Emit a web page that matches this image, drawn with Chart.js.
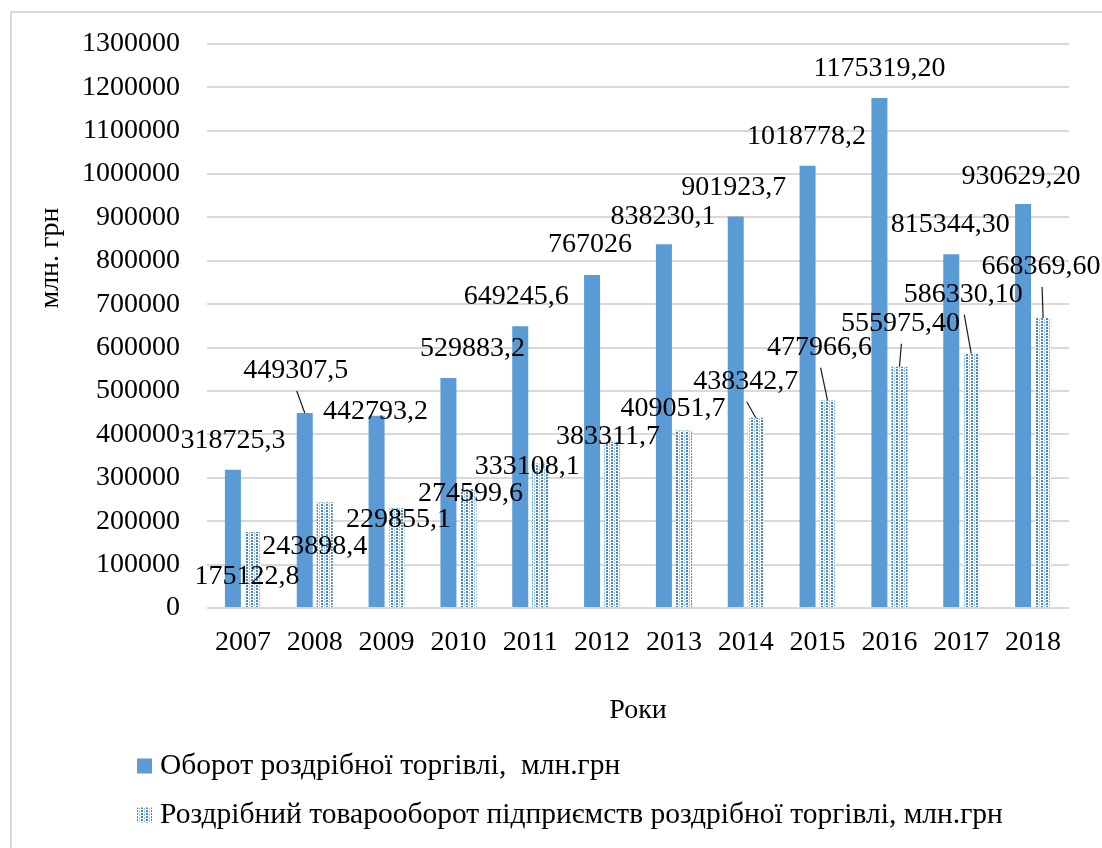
<!DOCTYPE html>
<html>
<head>
<meta charset="utf-8">
<script src="https://cdn.jsdelivr.net/npm/chart.js@4.4.1/dist/chart.umd.min.js"></script>
<style>
html,body{margin:0;padding:0;background:#fff;overflow:hidden;}
canvas{display:block;}
</style>
</head>
<body>
<canvas id="c" width="1102" height="848"></canvas>
<script>
// ---------- data ----------
const years = ['2007','2008','2009','2010','2011','2012','2013','2014','2015','2016','2017','2018'];
const retailTurnover = [318725.3, 449307.5, 442793.2, 529883.2, 649245.6, 767026, 838230.1, 901923.7, 1018778.2, 1175319.2, 815344.3, 930629.2];
const enterpriseTurnover = [175122.8, 243898.4, 229855.1, 274599.6, 333108.1, 383311.7, 409051.7, 438342.7, 477966.6, 555975.4, 586330.1, 668369.6];
const retailDecimals = [1,1,1,1,1,0,1,1,1,2,2,2];
const enterpriseDecimals = [1,1,1,1,1,1,1,1,1,2,2,2];
const yMin = 0;
const yMax = 1300000;
const yStep = 100000;
const seriesNames = ['Оборот роздрібної торгівлі,  млн.грн', 'Роздрібний товарооборот підприємств роздрібної торгівлі, млн.грн'];
const xTitle = 'Роки';
const yTitle = 'млн. грн';

// ---------- label placement (offset of label centre from bar top, px) ----------
const labelOffsets = [
  [[0,-29],[-9,-42],[-1,-4],[24,-29],[-4,-30],[-2,-30],[-1,-28],[-2,-29],[-1,-29],[0,-29],[-1,-29],[-2,-27]],
  [[-6,45],[-10,44],[2,11],[2,5],[-13,3],[-4,-5],[-11,-22],[-10,-36],[-8,-53],[1,-43],[-8,-59],[-2,-51]]
];
const leaderLines = [[1],[7,8,9,10,11]];

const FONT = '"Liberation Serif", "Times New Roman", serif';
Chart.defaults.font.family = FONT;
Chart.defaults.color = '#000';

const canvas = document.getElementById('c');
const ctx = canvas.getContext('2d');

function makePattern() {
  const t = document.createElement('canvas');
  t.width = 5; t.height = 3;
  const g = t.getContext('2d');
  g.fillStyle = '#ffffff'; g.fillRect(0,0,5,3);
  g.fillStyle = '#3f86d4'; g.fillRect(1,0,2,2);
  g.fillStyle = '#8dbcee'; g.fillRect(4,1,1,2);
  return ctx.createPattern(t, 'repeat');
}
const dotPattern = makePattern();
const blue = '#5b9bd5';

function fmt(v, d) {
  return v.toFixed(d).replace('.', ',');
}

const frame = {
  id: 'frame',
  beforeDraw(chart) {
    const c = chart.ctx;
    c.save();
    c.fillStyle = '#fff';
    c.fillRect(0,0,chart.width,chart.height);
    c.strokeStyle = '#d9d9d9';
    c.lineWidth = 2;
    c.strokeRect(11, 12, 3000, 3000);
    c.restore();
  }
};

const dataLabels = {
  id: 'dataLabels',
  afterDatasetsDraw(chart) {
    const c = chart.ctx;
    const decs = [retailDecimals, enterpriseDecimals];
    c.save();
    c.font = '28px ' + FONT;
    c.fillStyle = '#000';
    c.textAlign = 'center';
    c.textBaseline = 'middle';
    chart.data.datasets.forEach((ds, di) => {
      const meta = chart.getDatasetMeta(di);
      meta.data.forEach((bar, i) => {
        const off = labelOffsets[di][i];
        const lx = bar.x + off[0], ly = bar.y + off[1];
        if (leaderLines[di].includes(i)) {
          c.strokeStyle = '#1a1a1a';
          c.lineWidth = 1.2;
          c.beginPath();
          c.moveTo(lx + 1, ly + 20);
          c.lineTo(bar.x, bar.y);
          c.stroke();
        }
        c.fillText(fmt(ds.data[i], decs[di][i]), lx, ly);
      });
    });
    c.restore();
  }
};

const extras = {
  id: 'extras',
  afterDraw(chart) {
    const c = chart.ctx;
    c.save();
    // y axis title
    c.font = '28px ' + FONT;
    c.fillStyle = '#000';
    c.textAlign = 'center';
    c.textBaseline = 'middle';
    c.translate(51, 258);
    c.rotate(-Math.PI/2);
    c.fillText(yTitle, 0, 0);
    c.restore();
    // legend
    c.save();
    c.font = '29.5px ' + FONT;
    c.textAlign = 'left';
    c.textBaseline = 'middle';
    const rows = [766, 815];
    chart.data.datasets.forEach((ds, i) => {
      const y = rows[i];
      c.fillStyle = ds.backgroundColor;
      c.fillRect(137, y - 7.5, 15, 15);
      c.fillStyle = '#000';
      c.fillText(ds.label, 160, y);
    });
    c.restore();
  }
};

new Chart(canvas, {
  type: 'bar',
  data: {
    labels: years,
    datasets: [
      { label: seriesNames[0], data: retailTurnover, backgroundColor: blue, categoryPercentage: 0.557, barPercentage: 0.8 },
      { label: seriesNames[1], data: enterpriseTurnover, backgroundColor: dotPattern, categoryPercentage: 0.557, barPercentage: 0.8 }
    ]
  },
  options: {
    responsive: false,
    animation: false,
    layout: { padding: { left: 0, right: 33, top: 43, bottom: 110 } },
    plugins: { legend: { display: false }, tooltip: { enabled: false } },
    scales: {
      x: {
        grid: { display: false },
        border: { display: false },
        ticks: { font: { size: 28 }, color: '#000', padding: 10, maxRotation: 0, autoSkip: false },
        title: { display: true, text: xTitle, font: { size: 28 }, color: '#000', padding: { top: 0, bottom: 11 } },
        afterFit(s) { s.height = 130; }
      },
      y: {
        min: yMin, max: yMax,
        ticks: { stepSize: yStep, font: { size: 28 }, color: '#000', padding: 27, callback: v => String(v) },
        grid: { color: '#d9d9d9', lineWidth: 2, drawTicks: false },
        border: { display: false },
        afterFit(s) { s.width = 207; }
      }
    }
  },
  plugins: [frame, dataLabels, extras]
});
</script>
</body>
</html>
